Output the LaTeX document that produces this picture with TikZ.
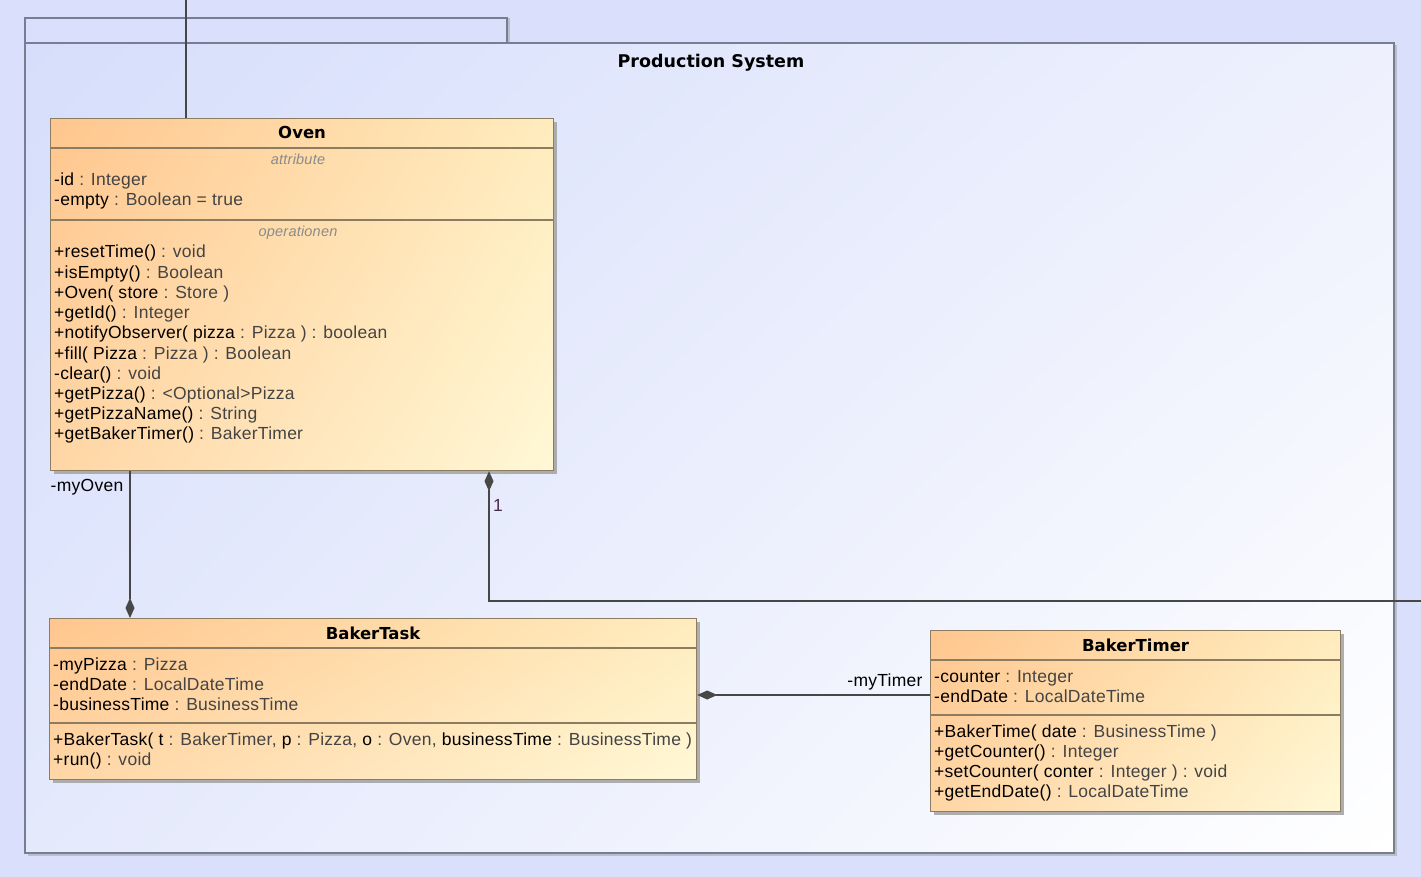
\documentclass[tikz,border=0pt]{standalone}
\usepackage{fontspec}
\setmainfont{Liberation Sans}[LetterSpace=1.5]
\newfontfamily\headfont{DejaVu Sans}
\usetikzlibrary{arrows.meta,shadings,shadows}

\definecolor{bgblue}{HTML}{DAE0FB}
\definecolor{pkgline}{HTML}{767E94}
\definecolor{clsline}{HTML}{8C7C62}
\definecolor{connline}{HTML}{474747}
\definecolor{typegray}{HTML}{444444}
\definecolor{stereogray}{HTML}{8A8A8A}
\definecolor{multcol}{HTML}{4A2A4A}

\newcommand{\ty}[1]{\textcolor{typegray}{#1}}
\newcommand{\umlfont}{\fontsize{17.5}{20}\selectfont}

\tikzset{comp/.tip={Diamond[length=20pt,width=9pt]}}

\begin{document}
\begin{tikzpicture}[x=1pt,y=-1pt,
  classbox/.style={draw=clsline, line width=1.2pt, anchor=north west, inner sep=0pt,
    upper left={rgb,255:red,255;green,198;blue,142},
    upper right={rgb,255:red,255;green,236;blue,190},
    lower left={rgb,255:red,255;green,214;blue,166},
    lower right={rgb,255:red,255;green,248;blue,214},
    drop shadow={shadow xshift=3pt,shadow yshift=-3pt,fill=black!35,opacity=.9}},
  sepline/.style={draw=clsline, line width=1.1pt},
  member/.style={anchor=base west, inner sep=0pt, font=\umlfont},
  classname/.style={anchor=base, inner sep=0pt, font=\headfont\bfseries\fontsize{16.5}{20}\selectfont},
  stereo/.style={anchor=base, inner sep=0pt, text=stereogray,
    font=\itshape\fontsize{14.5}{16}\selectfont},
  conn/.style={draw=connline, line width=1.2pt}
]

  \useasboundingbox (0,0) rectangle (1421,877);
  \fill[bgblue] (0,0) rectangle (1421,877);

  % balicek ProductionSystem
  \draw[pkgline, line width=1.1pt, fill=bgblue,
        drop shadow={shadow xshift=2.5pt,shadow yshift=0pt,fill=pkgline!50,opacity=1}]
        (25,43) rectangle (507,18);
  \draw[pkgline, line width=1.1pt,
        upper left={rgb,255:red,214;green,222;blue,251},
        upper right={rgb,255:red,238;green,241;blue,253},
        lower left={rgb,255:red,228;green,233;blue,252},
        lower right=white,
        drop shadow={shadow xshift=2.5pt,shadow yshift=-2.5pt,fill=pkgline!50,opacity=1}]
        (25,853) rectangle (1394,43);
  \node[anchor=base, inner sep=0pt, font=\headfont\bfseries\fontsize{17.5}{20}\selectfont]
        (pkgname) at (711,68) {Production System};

  % trida Oven
  \node[classbox, minimum width=503pt, minimum height=352pt] (oven) at (50,118) {};
  \draw[sepline] (oven.west |- 0,148) -- (oven.east |- 0,148);
  \draw[sepline] (oven.west |- 0,220) -- (oven.east |- 0,220);
  \node[classname] (ovenname) at (oven.north |- 0,139) {Oven};
  \node[stereo] (ovenattr) at (298,165) {attribute};
  \node[member] (ovenA1) at (54,186) {-id \ty{: Integer}};
  \node[member] (ovenA2) at (54,206) {-empty \ty{: Boolean = true}};
  \node[stereo] (ovenoper) at (298,237) {operationen};
  \foreach \txt [count=\i] in {
      {+resetTime() \ty{: void}},
      {+isEmpty() \ty{: Boolean}},
      {+Oven( store \ty{: Store )}},
      {+getId() \ty{: Integer}},
      {+notifyObserver( pizza \ty{: Pizza ) : boolean}},
      {+fill( Pizza \ty{: Pizza ) : Boolean}},
      {-clear() \ty{: void}},
      {+getPizza() \ty{: <Optional>Pizza}},
      {+getPizzaName() \ty{: String}},
      {+getBakerTimer() \ty{: BakerTimer}}}
    \node[member] (ovenO\i) at (54,{258+20.2*(\i-1)}) {\txt};

  % trida BakerTask
  \node[classbox, minimum width=647pt, minimum height=161pt] (task) at (49,618) {};
  \draw[sepline] (task.west |- 0,648) -- (task.east |- 0,648);
  \draw[sepline] (task.west |- 0,723) -- (task.east |- 0,723);
  \node[classname] (taskname) at (task.north |- 0,639) {BakerTask};
  \node[member] (taskA1) at (53,670) {-myPizza \ty{: Pizza}};
  \node[member] (taskA2) at (53,690) {-endDate \ty{: LocalDateTime}};
  \node[member] (taskA3) at (53,710) {-businessTime \ty{: BusinessTime}};
  \node[member] (taskO1) at (53,745)
       {+BakerTask( t \ty{: BakerTimer,} p \ty{: Pizza,} o \ty{: Oven,} businessTime \ty{: BusinessTime )}};
  \node[member] (taskO2) at (53,765) {+run() \ty{: void}};

  % trida BakerTimer
  \node[classbox, minimum width=410pt, minimum height=181pt] (timer) at (930,630) {};
  \draw[sepline] (timer.west |- 0,660) -- (timer.east |- 0,660);
  \draw[sepline] (timer.west |- 0,715) -- (timer.east |- 0,715);
  \node[classname] (timername) at (timer.north |- 0,651) {BakerTimer};
  \node[member] (timerA1) at (934,682) {-counter \ty{: Integer}};
  \node[member] (timerA2) at (934,702) {-endDate \ty{: LocalDateTime}};
  \foreach \txt [count=\i] in {
      {+BakerTime( date \ty{: BusinessTime )}},
      {+getCounter() \ty{: Integer}},
      {+setCounter( conter \ty{: Integer ) : void}},
      {+getEndDate() \ty{: LocalDateTime}}}
    \node[member] (timerO\i) at (934,{737+20*(\i-1)}) {\txt};

  % spojnice
  \coordinate (fromtop) at (186,0);
  \coordinate (offright) at (1421,601);
  \draw[conn] (fromtop) -- (fromtop |- oven.north);
  \draw[conn, -comp] ([xshift=80pt]oven.south west) -- ([xshift=81pt]task.north west);
  \draw[conn, comp-] ([xshift=439pt]oven.south west) |- (offright);
  \draw[conn, comp-] (task.east |- 0,695) -- (timer.west |- 0,695);

  \node[anchor=base, inner sep=0pt, font=\umlfont] (lblOven) at (87,491) {-myOven};
  \node[anchor=base, inner sep=0pt, font=\umlfont, text=multcol] (lblOne) at (498,511) {1};
  \node[anchor=base, inner sep=0pt, font=\umlfont] (lblTimer) at (885,686) {-myTimer};

\end{tikzpicture}
\end{document}
